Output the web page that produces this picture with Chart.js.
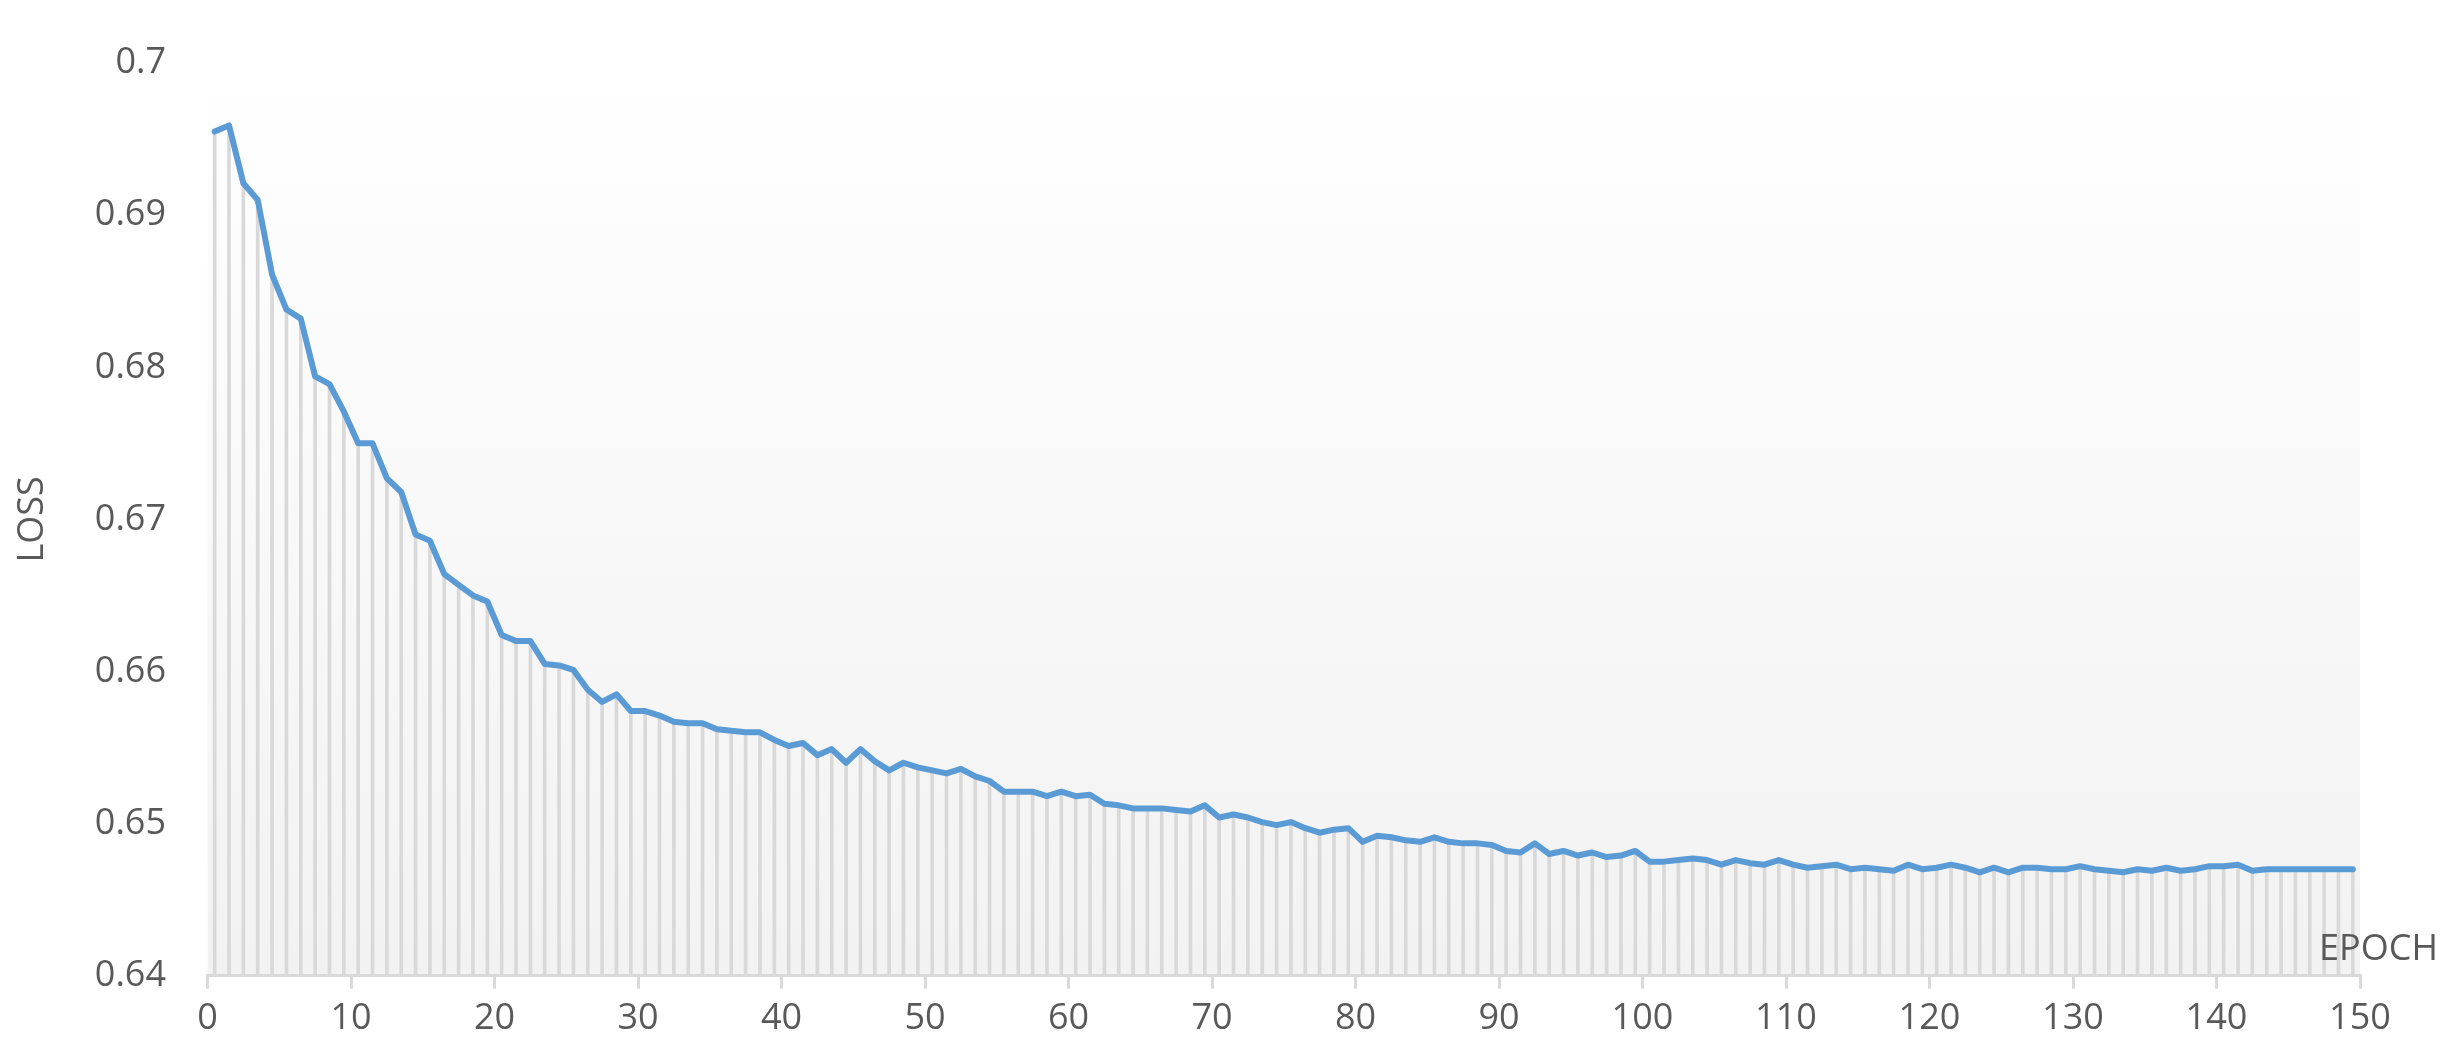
<!DOCTYPE html>
<html>
<head>
<meta charset="utf-8">
<script src="https://cdn.jsdelivr.net/npm/chart.js@4.4.1/dist/chart.umd.min.js"></script>
<style>
html,body{margin:0;padding:0;background:#ffffff;}
#wrap{width:2458px;height:1061px;position:relative;}
</style>
</head>
<body>
<div id="wrap"><canvas id="c"></canvas></div>
<script>
const epochs = [1,2,3,4,5,6,7,8,9,10,11,12,13,14,15,16,17,18,19,20,
21,22,23,24,25,26,27,28,29,30,31,32,33,34,35,36,37,38,39,40,
41,42,43,44,45,46,47,48,49,50,51,52,53,54,55,56,57,58,59,60,
61,62,63,64,65,66,67,68,69,70,71,72,73,74,75,76,77,78,79,80,
81,82,83,84,85,86,87,88,89,90,91,92,93,94,95,96,97,98,99,100,
101,102,103,104,105,106,107,108,109,110,111,112,113,114,115,116,117,118,119,120,
121,122,123,124,125,126,127,128,129,130,131,132,133,134,135,136,137,138,139,140,
141,142,143,144,145,146,147,148,149,150];

const lossValues = [
0.6955,0.6959,0.6921,0.6910,0.6861,0.6838,0.6832,0.6794,0.6789,0.6771,
0.6750,0.6750,0.6727,0.6718,0.6690,0.6686,0.6664,0.6657,0.6650,0.6646,
0.6624,0.6620,0.6620,0.6605,0.6604,0.6601,0.6588,0.6580,0.6585,0.6574,
0.6574,0.6571,0.6567,0.6566,0.6566,0.6562,0.6561,0.6560,0.6560,0.6555,
0.6551,0.6553,0.6545,0.6549,0.6540,0.6549,0.6541,0.6535,0.6540,0.6537,
0.6535,0.6533,0.6536,0.6531,0.6528,0.6521,0.6521,0.6521,0.6518,0.6521,
0.6518,0.6519,0.6513,0.6512,0.6510,0.6510,0.6510,0.6509,0.6508,0.6512,
0.6504,0.6506,0.6504,0.6501,0.6499,0.6501,0.6497,0.6494,0.6496,0.6497,
0.6488,0.6492,0.6491,0.6489,0.6488,0.6491,0.6488,0.6487,0.6487,0.6486,
0.6482,0.6481,0.6487,0.6480,0.6482,0.6479,0.6481,0.6478,0.6479,0.6482,
0.6475,0.6475,0.6476,0.6477,0.6476,0.6473,0.6476,0.6474,0.6473,0.6476,
0.6473,0.6471,0.6472,0.6473,0.6470,0.6471,0.6470,0.6469,0.6473,0.6470,
0.6471,0.6473,0.6471,0.6468,0.6471,0.6468,0.6471,0.6471,0.6470,0.6470,
0.6472,0.6470,0.6469,0.6468,0.6470,0.6469,0.6471,0.6469,0.6470,0.6472,
0.6472,0.6473,0.6469,0.6470,0.6470,0.6470,0.6470,0.6470,0.6470,0.6470];

const xTickValues = [0,10,20,30,40,50,60,70,80,90,100,110,120,130,140,150];
const yTickValues = [0.64,0.65,0.66,0.67,0.68,0.69,0.7];
const yTickLabels = ['0.64','0.65','0.66','0.67','0.68','0.69','0.7'];

const yTitle = 'LOSS';
const xTitle = 'EPOCH';

const FONT = '"Open Sans", "Noto Sans", sans-serif';
const TEXT = '#595959';
const GRAY = '#d9d9d9';

const bgPlugin = {
  id: 'plotBg',
  beforeDraw(chart) {
    const {ctx, chartArea: a} = chart;
    const g = ctx.createLinearGradient(0, a.top, 0, a.bottom);
    g.addColorStop(0, '#ffffff');
    g.addColorStop(1, '#f2f2f2');
    ctx.save();
    ctx.fillStyle = g;
    ctx.fillRect(a.left, a.top, a.right - a.left, a.bottom - a.top);
    ctx.restore();
  }
};

const xTitlePlugin = {
  id: 'xTitleInside',
  afterDatasetsDraw(chart) {
    const {ctx, chartArea: a} = chart;
    ctx.save();
    ctx.font = '36px ' + FONT;
    ctx.fillStyle = TEXT;
    ctx.textAlign = 'right';
    ctx.textBaseline = 'alphabetic';
    ctx.fillText(xTitle, a.right + 78, a.bottom - 16);
    ctx.restore();
  }
};

new Chart(document.getElementById('c'), {
  type: 'bar',
  data: {
    labels: epochs,
    datasets: [
      {
        type: 'line',
        label: 'loss',
        data: lossValues,
        borderColor: '#5b9bd5',
        borderWidth: 6,
        pointRadius: 0,
        tension: 0,
        borderJoinStyle: 'round',
        borderCapStyle: 'round',
        order: 0,
        xAxisID: 'x',
        yAxisID: 'y'
      },
      {
        type: 'bar',
        label: 'drop',
        data: lossValues,
        backgroundColor: GRAY,
        borderWidth: 0,
        barThickness: 3,
        order: 1,
        xAxisID: 'x',
        yAxisID: 'y'
      }
    ]
  },
  options: {
    responsive: true,
    maintainAspectRatio: false,
    animation: false,
    devicePixelRatio: 1,
    layout: { padding: { top: 34, right: 98, bottom: 0, left: 0 } },
    plugins: { legend: { display: false }, tooltip: { enabled: false }, title: { display: false } },
    scales: {
      x: {
        type: 'category',
        display: false,
        offset: true
      },
      xt: {
        type: 'linear',
        position: 'bottom',
        min: 0,
        max: 150,
        offset: false,
        afterBuildTicks(scale) { scale.ticks = xTickValues.map(v => ({value: v})); },
        afterFit(scale) { scale.height = 85.3; },
        grid: {
          display: true,
          offset: false,
          drawOnChartArea: false,
          drawTicks: true,
          tickLength: 13,
          tickWidth: 3,
          tickColor: GRAY,
          color: GRAY,
          lineWidth: 3
        },
        border: { display: true, color: GRAY, width: 3 },
        ticks: {
          color: TEXT,
          font: { family: FONT, size: 36 },
          padding: 8,
          maxRotation: 0,
          autoSkip: false
        }
      },
      y: {
        type: 'linear',
        position: 'left',
        min: 0.64,
        max: 0.7,
        afterBuildTicks(scale) { scale.ticks = yTickValues.map(v => ({value: v})); },
        afterFit(scale) { scale.width = 207.5; },
        grid: { display: false, drawTicks: false },
        border: { display: false },
        ticks: {
          color: TEXT,
          font: { family: FONT, size: 36 },
          padding: 41.5,
          callback(value, index) { return yTickLabels[index]; }
        },
        title: {
          display: true,
          text: yTitle,
          color: TEXT,
          font: { family: FONT, size: 36 },
          padding: { top: 11, bottom: 0 }
        }
      }
    }
  },
  plugins: [bgPlugin, xTitlePlugin]
});
</script>
</body>
</html>
